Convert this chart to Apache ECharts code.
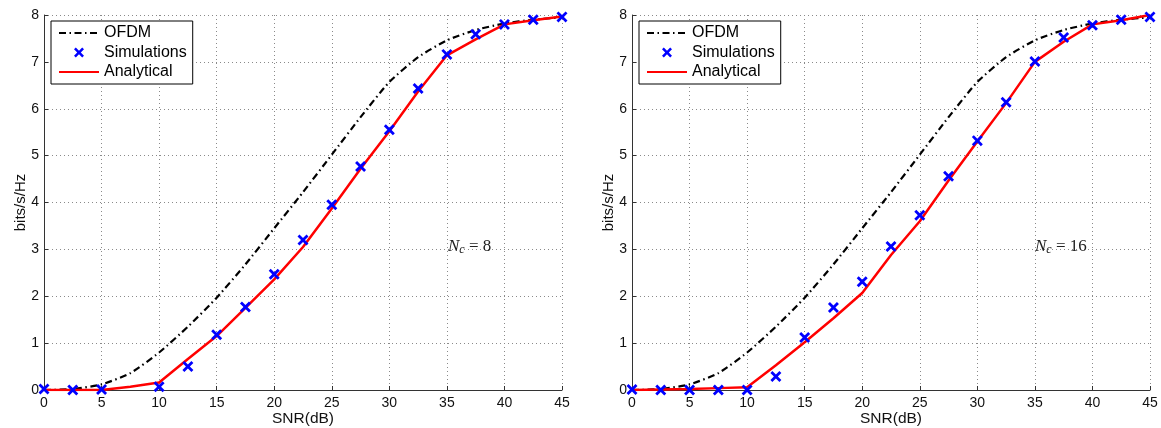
<!DOCTYPE html>
<html>
<head>
<meta charset="utf-8">
<script src="https://cdn.jsdelivr.net/npm/echarts@6/dist/echarts.min.js"></script>
<style>
html,body{margin:0;padding:0;background:#fff;}
#chart{width:1161px;height:428px;}
</style>
</head>
<body>
<div id="chart"></div>
<script>
// ---- data ----
const snr = [0, 2.5, 5, 7.5, 10, 12.5, 15, 17.5, 20, 22.5, 25, 27.5, 30, 32.5, 35, 37.5, 40, 42.5, 45];
const ofdm = [0, 0.02, 0.12, 0.36, 0.8, 1.35, 1.97, 2.68, 3.45, 4.22, 5.02, 5.82, 6.57, 7.1, 7.46, 7.68, 7.82, 7.9, 7.95];
const sim8 = [0.02, 0, 0.01, -0.01, 0.07, 0.5, 1.18, 1.77, 2.47, 3.2, 3.95, 4.77, 5.55, 6.43, 7.16, 7.59, 7.8, 7.9, 7.96];
const ana8 = [0, 0, 0, 0.07, 0.16, 0.66, 1.15, 1.75, 2.36, 3.05, 3.87, 4.72, 5.52, 6.37, 7.14, 7.48, 7.8, 7.89, 7.97];
const sim16 = [0.01, 0, 0, 0, 0, 0.29, 1.12, 1.76, 2.31, 3.06, 3.73, 4.56, 5.32, 6.14, 7.01, 7.52, 7.78, 7.9, 7.96];
const ana16 = [0, 0.01, 0.02, 0.04, 0.06, 0.53, 1.02, 1.53, 2.07, 2.88, 3.6, 4.47, 5.3, 6.12, 7.0, 7.43, 7.8, 7.89, 8.0];
const xTicks = {min: 0, max: 45, interval: 5};
const yTicks = {min: 0, max: 8, interval: 1};
const labels = {x: 'SNR(dB)', y: 'bits/s/Hz', names: ['OFDM', 'Simulations', 'Analytical'], notes: ['8', '16']};

// ---- chart ----
const pair = (ys) => snr.map((x, i) => [x, ys[i]]);
const FONT = '"Liberation Sans", Arial, Helvetica, sans-serif';
const SERIF = '"Liberation Serif", "DejaVu Serif", serif';
const xMark = 'path://M0,1.8L1.8,0L5,3.2L8.2,0L10,1.8L6.8,5L10,8.2L8.2,10L5,6.8L1.8,10L0,8.2L3.2,5Z';

const grids = [
  {left: 44, top: 15, width: 518, height: 375, outerBoundsMode: 'none', containLabel: false},
  {left: 632, top: 15, width: 518, height: 375, outerBoundsMode: 'none', containLabel: false}
];

function xAxis(gi) {
  return {
    type: 'value', gridIndex: gi, min: xTicks.min, max: xTicks.max, interval: xTicks.interval,
    name: labels.x, nameLocation: 'middle', nameGap: 21, nameMoveOverlap: false,
    nameTextStyle: {fontFamily: FONT, fontSize: 15.5, color: '#111'},
    axisLine: {show: true, lineStyle: {color: '#333', width: 1}},
    axisTick: {show: true, inside: true, length: 4, lineStyle: {color: '#333'}},
    axisLabel: {fontFamily: FONT, fontSize: 14, color: '#111', margin: 6},
    splitLine: {show: true, lineStyle: {color: '#8a8a8a', width: 1, type: [1, 3]}}
  };
}
function yAxis(gi) {
  return {
    type: 'value', gridIndex: gi, min: yTicks.min, max: yTicks.max, interval: yTicks.interval,
    name: labels.y, nameLocation: 'middle', nameGap: 16, nameRotate: 90, nameMoveOverlap: false,
    nameTextStyle: {fontFamily: FONT, fontSize: 15, color: '#111'},
    axisLine: {show: true, onZero: false, lineStyle: {color: '#333', width: 1}},
    axisTick: {show: true, inside: true, length: 4, lineStyle: {color: '#333'}},
    axisLabel: {fontFamily: FONT, fontSize: 14, color: '#111', margin: 5},
    splitLine: {show: true, lineStyle: {color: '#8a8a8a', width: 1, type: [1, 3]}}
  };
}
function seriesFor(gi, sim, ana) {
  return [
    {name: labels.names[0], type: 'line', xAxisIndex: gi, yAxisIndex: gi, data: pair(ofdm),
     symbol: 'none', smooth: 0.2, lineStyle: {color: '#000', width: 2.2, type: [7, 3.5, 1.5, 3.5]},
     itemStyle: {color: '#000'}, z: 3},
    {name: labels.names[1], type: 'scatter', xAxisIndex: gi, yAxisIndex: gi, data: pair(sim),
     symbol: xMark, symbolSize: 11, symbolKeepAspect: true, itemStyle: {color: '#0000ff', opacity: 1}, z: 5},
    {name: labels.names[2], type: 'line', xAxisIndex: gi, yAxisIndex: gi, data: pair(ana),
     symbol: 'none', lineStyle: {color: '#ff0000', width: 2.5}, itemStyle: {color: '#ff0000'}, z: 4}
  ];
}
function legendFor(left) {
  const hidden = {color: 'rgba(0,0,0,0)', borderColor: 'rgba(0,0,0,0)', borderWidth: 0, opacity: 0};
  return {
    orient: 'vertical', left: left, top: 21,
    data: [
      {name: labels.names[0], itemStyle: hidden},
      {name: labels.names[1], icon: xMark},
      {name: labels.names[2], itemStyle: hidden}
    ],
    itemWidth: 40, itemHeight: 10, itemGap: 3.5,
    padding: [4, 6, 4, 7],
    borderColor: '#000', borderWidth: 1, backgroundColor: '#fff',
    textStyle: {fontFamily: FONT, fontSize: 16, lineHeight: 16, color: '#000'},
    selectedMode: false, symbolKeepAspect: true
  };
}
function note(x, y, num) {
  return {
    type: 'text', left: x, top: y, z: 10,
    style: {
      text: '{n|N}{c|c}{e| = ' + num + '}',
      rich: {
        n: {fontFamily: SERIF, fontStyle: 'italic', fontSize: 17, fill: '#222'},
        c: {fontFamily: SERIF, fontStyle: 'italic', fontSize: 12, fill: '#222', padding: [7, 0, 0, 0]},
        e: {fontFamily: SERIF, fontSize: 17, fill: '#222'}
      }
    }
  };
}

const chart = echarts.init(document.getElementById('chart'), null, {renderer: 'canvas'});
chart.setOption({
  backgroundColor: '#fff',
  animation: false,
  grid: grids,
  xAxis: [xAxis(0), xAxis(1)],
  yAxis: [yAxis(0), yAxis(1)],
  legend: [legendFor(51), legendFor(639)],
  series: seriesFor(0, sim8, ana8).concat(seriesFor(1, sim16, ana16)),
  graphic: [note(448, 238, labels.notes[0]), note(1035, 238, labels.notes[1])]
});
</script>
</body>
</html>
